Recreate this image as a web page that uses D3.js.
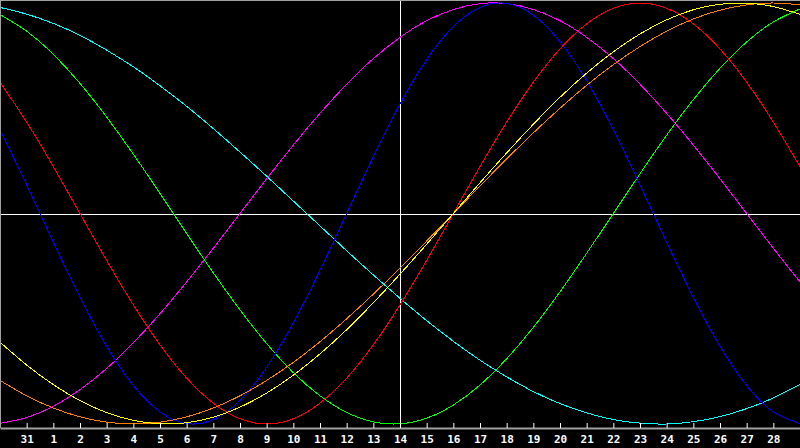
<!DOCTYPE html>
<html>
<head>
<meta charset="utf-8">
<script src="https://cdn.jsdelivr.net/npm/d3@7"></script>
<style>
   html, body { margin: 0; padding: 0; background: #000; }
   #chart { width: 800px; height: 448px; }
   .axis text { font-family: "DejaVu Sans Mono", monospace; font-weight: bold; font-size: 11px; fill: #fff; }
</style>
</head>
<body>
<div id="chart"></div>
<script>
// day labels under the ticks (tick 1 = last day of previous month)
var dayLabels = ["31","1","2","3","4","5","6","7","8","9","10","11","12","13","14",
                 "15","16","17","18","19","20","21","22","23","24","25","26","27","28"];

// curve values read at each day step (0..30), -1 = bottom, 1 = top
var physical = [0.398,0.136,-0.136,-0.398,-0.631,-0.817,-0.942,-0.998,-0.979,-0.888,-0.731,-0.520,-0.270,0,
                0.270,0.520,0.731,0.888,0.979,0.998,0.942,0.817,0.631,0.398,0.136,-0.136,-0.398,-0.631,-0.817,-0.942,-0.998];
var emotional = [0.624,0.434,0.223,0,-0.223,-0.434,-0.624,-0.782,-0.901,-0.975,-1,-0.975,-0.901,-0.782,-0.624,
                 -0.434,-0.223,0,0.223,0.434,0.624,0.782,0.901,0.975,1,0.975,0.901,0.782,0.624,0.434,0.223];
var intellectual = [0.945,0.866,0.756,0.618,0.458,0.282,0.095,-0.095,-0.282,-0.458,-0.618,-0.756,-0.866,-0.945,-0.990,
                    -0.999,-0.972,-0.910,-0.815,-0.690,-0.541,-0.372,-0.189,0,0.189,0.372,0.541,0.690,0.815,0.910,0.972];
var intuitive = [-0.997,-0.969,-0.916,-0.837,-0.736,-0.614,-0.476,-0.325,-0.165,0,0.165,0.325,0.476,0.614,0.736,
                 0.837,0.916,0.969,0.997,0.997,0.969,0.916,0.837,0.736,0.614,0.476,0.325,0.165,0,-0.165,-0.325];
var aesthetic = [-0.611,-0.720,-0.813,-0.889,-0.946,-0.983,-0.999,-0.994,-0.968,-0.920,-0.853,-0.768,-0.667,-0.552,-0.424,
                 -0.288,-0.146,0,0.146,0.288,0.424,0.552,0.667,0.768,0.853,0.920,0.968,0.994,0.999,0.983,0.946];
var awareness = [-0.793,-0.866,-0.924,-0.966,-0.991,-1,-0.991,-0.966,-0.924,-0.866,-0.793,-0.707,-0.609,-0.5,-0.383,
                 -0.259,-0.131,0,0.131,0.259,0.383,0.5,0.609,0.707,0.793,0.866,0.924,0.966,0.991,1,0.991];
var spiritual = [0.979,0.947,0.903,0.846,0.776,0.697,0.607,0.509,0.403,0.292,0.177,0.059,-0.059,-0.177,-0.292,
                 -0.403,-0.509,-0.607,-0.697,-0.776,-0.846,-0.903,-0.947,-0.979,-0.996,-1,-0.989,-0.965,-0.927,-0.876,-0.812];

var seriesList = [spiritual, intuitive, intellectual, physical, emotional, awareness, aesthetic];
var colors = ["#00ffff", "#ff00ff", "#00ff00", "#0000ff", "#ff0000", "#ff8000", "#ffff00"];

//Width and height
var w = 800;
var h = 448;
var axisY = 428;

var xScale = d3.scaleLinear()
            .domain([0, 30])
            .range([0, w]);

var yScale = d3.scaleLinear()
            .domain([-1, 1])
            .range([424, 3]);

var svg = d3.select("#chart")
         .append("svg")
         .attr("width", w)
         .attr("height", h);

svg.append("rect")
   .attr("width", w)
   .attr("height", h)
   .attr("fill", "#000");

//crosshair
svg.append("line")
   .attr("x1", xScale(15) + 0.5).attr("x2", xScale(15) + 0.5)
   .attr("y1", 0).attr("y2", axisY)
   .attr("stroke", "#fff");
svg.append("line")
   .attr("x1", 0).attr("x2", w)
   .attr("y1", 214.5).attr("y2", 214.5)
   .attr("stroke", "#fff");

//curves
var line = d3.line()
            .x(function(d, i) { return xScale(i); })
            .y(function(d) { return yScale(d); })
            .curve(d3.curveNatural);

svg.selectAll(".cycle")
   .data(seriesList)
   .enter()
   .append("path")
   .attr("class", "cycle")
   .attr("d", line)
   .attr("fill", "none")
   .attr("stroke", function(d, i) { return colors[i]; })
   .attr("stroke-width", 1)
   .attr("shape-rendering", "crispEdges");

//frame
svg.append("line")
   .attr("x1", 0.5).attr("x2", 0.5).attr("y1", 0).attr("y2", axisY)
   .attr("stroke", "#a0a0a0");
svg.append("line")
   .attr("x1", 0).attr("x2", w).attr("y1", 0.5).attr("y2", 0.5)
   .attr("stroke", "#a0a0a0");

//Create X axis
var xAxis = d3.axisBottom()
            .scale(xScale)
            .tickValues(d3.range(1, 30))
            .tickSizeInner(-5)
            .tickSizeOuter(0)
            .tickPadding(7)
            .tickFormat(function(d) { return dayLabels[d - 1]; });

var gx = svg.append("g")
   .attr("class", "axis")
   .attr("transform", "translate(0," + axisY + ")")
   .call(xAxis);

gx.select(".domain").attr("stroke", "#a0a0a0").attr("stroke-width", 2);
gx.selectAll(".tick line").attr("stroke", "#fff");
</script>
</body>
</html>
